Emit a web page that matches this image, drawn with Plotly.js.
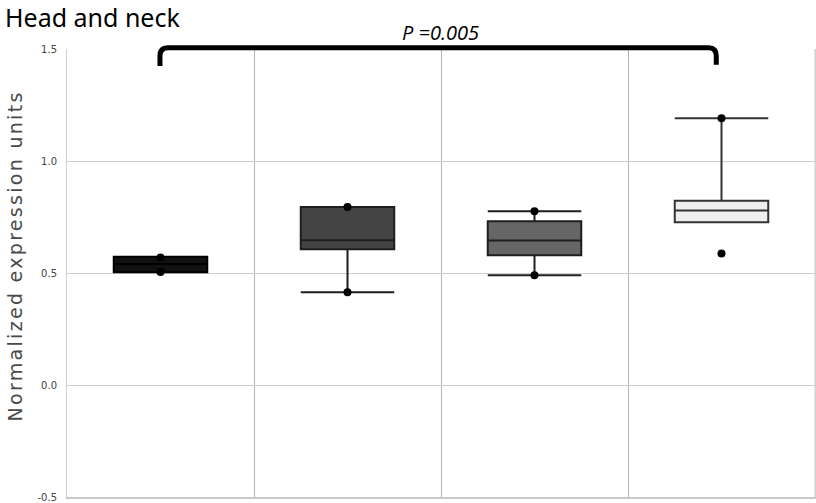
<!DOCTYPE html>
<html>
<head>
<meta charset="utf-8">
<script src="https://cdn.plot.ly/plotly-3.0.1.min.js"></script>
<style>
html,body{margin:0;padding:0;background:#fff;}
#chart{width:816px;height:503px;}
#chart .annotation[data-index="0"] text{letter-spacing:2.3px;}
</style>
</head>
<body>
<div id="chart"></div>
<script>
// Data
var categories = ["Group 1", "Group 2", "Group 3", "Group 4"];
var q1Values = [0.503, 0.606, 0.579, 0.727];
var medianValues = [0.540, 0.646, 0.645, 0.779];
var q3Values = [0.572, 0.795, 0.731, 0.822];
var lowerFences = [0.503, 0.414, 0.490, 0.727];
var upperFences = [0.572, 0.795, 0.776, 1.191];
var pointGroups = [0, 0, 1, 1, 2, 2, 3, 3];
var pointValues = [0.569, 0.505, 0.795, 0.414, 0.776, 0.490, 1.191, 0.587];
var yTickValues = [-0.5, 0.0, 0.5, 1.0, 1.5];
var yTickLabels = ["-0.5", "0.0", "0.5", "1.0", "1.5"];
var yTitle = "Normalized expression units";
var chartTitle = "Head and neck";
var pLabel = "P =0.005";

var fills = ["#111111", "#444444", "#666666", "#eeeeee"];
var lines = ["#000000", "#1e1e1e", "#1e1e1e", "#333333"];

var traces = [];
categories.forEach(function (c, i) {
  traces.push({
    type: "box",
    name: c,
    x: [i + 0.5],
    q1: [q1Values[i]],
    median: [medianValues[i]],
    q3: [q3Values[i]],
    lowerfence: [lowerFences[i]],
    upperfence: [upperFences[i]],
    width: 0.5,
    whiskerwidth: 1,
    fillcolor: fills[i],
    line: {color: lines[i], width: 2},
    boxpoints: false,
    hoverinfo: "skip",
    showlegend: false
  });
});
traces.push({
  type: "scatter",
  mode: "markers",
  x: pointGroups.map(function (g) { return g + 0.5; }),
  y: pointValues,
  marker: {color: "#000", size: 8},
  showlegend: false,
  hoverinfo: "skip",
  cliponaxis: false
});

var sansFont = "'DejaVu Sans', sans-serif";

var layout = {
  width: 816,
  height: 503,
  margin: {l: 67, r: 1, t: 49, b: 6},
  paper_bgcolor: "#fff",
  plot_bgcolor: "#fff",
  showlegend: false,
  xaxis: {
    range: [0, 4],
    tickvals: [0, 1, 2, 3, 4],
    showticklabels: false,
    showgrid: true,
    gridcolor: "#b4b4b4",
    gridwidth: 1,
    zeroline: false,
    showline: true,
    linecolor: "#c8c8c8",
    linewidth: 2,
    mirror: false,
    ticks: ""
  },
  yaxis: {
    range: [-0.5, 1.5],
    tickvals: yTickValues,
    ticktext: yTickLabels,
    tickfont: {family: sansFont, size: 10, color: "#444"},
    ticks: "outside",
    ticklen: 7,
    tickcolor: "rgba(0,0,0,0)",
    showgrid: true,
    gridcolor: "#cfcfcf",
    gridwidth: 1,
    zeroline: false,
    showline: true,
    linecolor: "#cfcfcf",
    linewidth: 1,
    mirror: true
  },
  shapes: [
    {
      type: "path",
      xref: "paper", yref: "paper",
      path: "M 0.1243 0.962 L 0.1243 0.985 Q 0.1243 1.003 0.135 1.003 L 0.858 1.003 Q 0.868 1.003 0.868 0.985 L 0.868 0.965",
      line: {color: "#000", width: 5},
      layer: "above"
    },
    {
      type: "line", xref: "paper", yref: "paper",
      x0: 1, x1: 1, y0: 0, y1: 1,
      line: {color: "#cfcfcf", width: 1}
    }
  ],
  annotations: [
    {
      text: yTitle,
      textangle: -90,
      xref: "paper", yref: "paper",
      x: -0.0689, y: 0.538,
      xanchor: "center", yanchor: "middle",
      showarrow: false,
      font: {family: sansFont, size: 19, color: "#4a4a4a"}
    },
    {
      text: chartTitle,
      xref: "paper", yref: "paper",
      x: -0.0856, y: 1.071,
      xanchor: "left", yanchor: "middle",
      showarrow: false,
      font: {family: "Noto Sans", size: 25, color: "#000"}
    },
    {
      text: "<i>" + pLabel + "</i>",
      xref: "paper", yref: "paper",
      x: 0.4995, y: 1.036,
      xanchor: "center", yanchor: "middle",
      showarrow: false,
      font: {family: "Open Sans", size: 20, color: "#000"}
    }
  ]
};

Plotly.newPlot("chart", traces, layout, {displayModeBar: false, staticPlot: true});
</script>
</body>
</html>
